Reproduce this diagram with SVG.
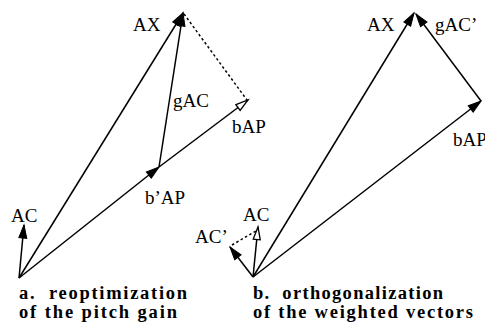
<svg xmlns="http://www.w3.org/2000/svg" width="485" height="327" viewBox="0 0 485 327">
<style>
.v{stroke:#000;stroke-width:1.5;fill:none}
.d{stroke:#000;stroke-width:1.5;fill:none;stroke-dasharray:2.5 2.5}
.f{marker-end:url(#fa)}
.h{marker-end:url(#ha)}
text{font-family:"Liberation Serif","Times New Roman",serif;fill:#000}
.l{font-size:19px}
.c{font-size:18.5px;font-weight:bold}
</style>
<defs>
<marker id="fa" markerUnits="userSpaceOnUse" markerWidth="14" markerHeight="10" refX="13" refY="4" orient="auto" overflow="visible">
<path d="M0,0 L13,4 L0,8 z" fill="#000" stroke="#000" stroke-width="1"/>
</marker>
<marker id="ha" markerUnits="userSpaceOnUse" markerWidth="14" markerHeight="10" refX="13" refY="4" orient="auto" overflow="visible">
<path d="M0.5,0.5 L13,4 L0.5,7.5 z" fill="#fff" stroke="#000" stroke-width="1.3"/>
</marker>
</defs>
<rect width="485" height="327" fill="#fff"/>
<g id="connectors">
<line class="v f" x1="19" y1="278" x2="183" y2="13"/>
<line class="v f" x1="19" y1="278" x2="159" y2="167"/>
<line class="v h" x1="159" y1="167" x2="248" y2="100"/>
<line class="v f" x1="159" y1="167" x2="183" y2="13"/>
<line class="d" x1="184" y1="14" x2="247" y2="100"/>
<line class="v f" x1="19" y1="278" x2="24" y2="225"/>
<line class="v f" x1="253" y1="277" x2="414" y2="13"/>
<line class="v f" x1="253" y1="277" x2="481" y2="101"/>
<line class="v f" x1="481" y1="101" x2="416" y2="14"/>
<line class="v h" x1="253" y1="277" x2="258" y2="227"/>
<line class="v f" x1="253" y1="277" x2="230" y2="247"/>
<line class="d" x1="232" y1="245" x2="256" y2="231"/>
</g>
<g id="a-AX"><text class="l" x="133" y="31">AX</text></g>
<g id="a-gAC"><text class="l" x="173" y="107">gAC</text></g>
<g id="a-bAP"><text class="l" x="232" y="133">bAP</text></g>
<g id="a-b1AP"><text class="l" x="145" y="204">b’AP</text></g>
<g id="a-AC"><text class="l" x="11" y="222">AC</text></g>
<g id="a-caption">
<text class="c" x="19" y="299" textLength="168" lengthAdjust="spacing" xml:space="preserve">a.  reoptimization</text>
<text class="c" x="19" y="318" textLength="158" lengthAdjust="spacing">of the pitch gain</text>
</g>
<g id="b-AX"><text class="l" x="367" y="31">AX</text></g>
<g id="b-gAC1"><text class="l" x="435" y="31">gAC’</text></g>
<g id="b-bAP"><text class="l" x="453" y="146">bAP</text></g>
<g id="b-AC"><text class="l" x="243" y="221">AC</text></g>
<g id="b-AC1"><text class="l" x="195" y="243">AC’</text></g>
<g id="b-caption">
<text class="c" x="253" y="299" textLength="190" lengthAdjust="spacing" xml:space="preserve">b.  orthogonalization</text>
<text class="c" x="253" y="318" textLength="220" lengthAdjust="spacing">of the weighted vectors</text>
</g>
</svg>
